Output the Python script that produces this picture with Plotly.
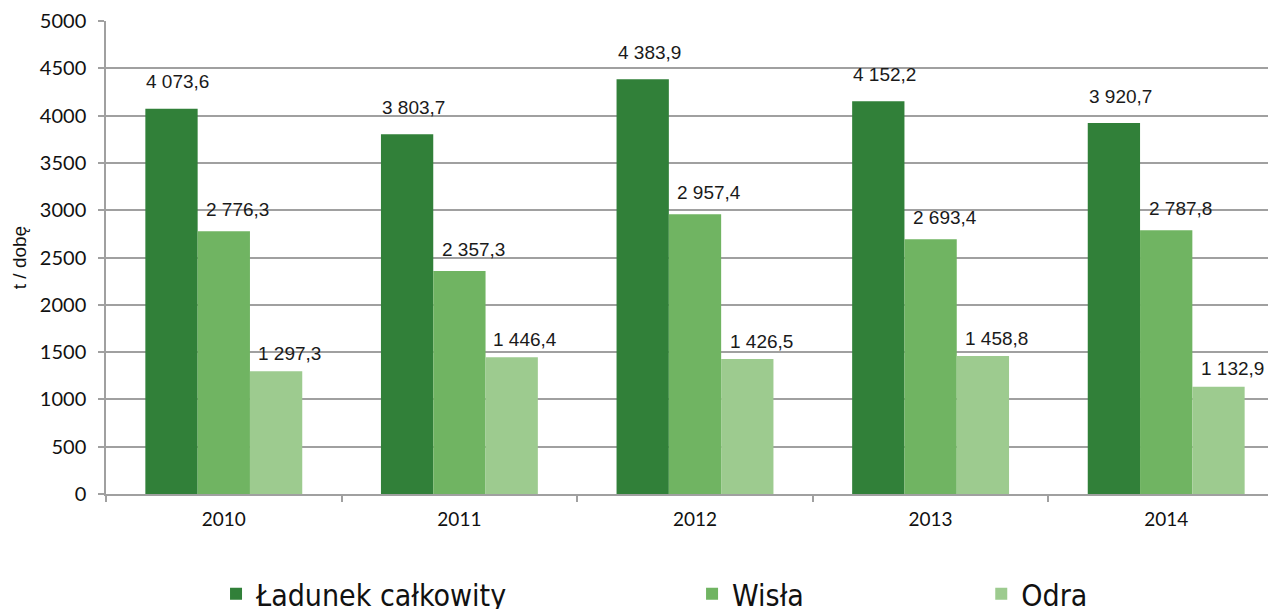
import plotly.graph_objects as go

years = ["2010", "2011", "2012", "2013", "2014"]
ladunek = [4073.6, 3803.7, 4383.9, 4152.2, 3920.7]
wisla = [2776.3, 2357.3, 2957.4, 2693.4, 2787.8]
odra = [1297.3, 1446.4, 1426.5, 1458.8, 1132.9]

series = [
    ("Ładunek całkowity", ladunek, "#318039", "legend", -46, 27),
    ("Wisła", wisla, "#70b462", "legend2", 14, 22),
    ("Odra", odra, "#9dcb8f", "legend3", 66, 18),
]

def fmt(v):
    s = f"{v:,.1f}"
    return s.replace(",", " ").replace(".", ",")

fig = go.Figure()
annotations = []
for name, vals, color, leg, xs, ys in series:
    fig.add_trace(go.Bar(
        x=years, y=vals, name=name, marker=dict(color=color, line=dict(width=0)),
        legend=leg,
    ))
    for i, v in enumerate(vals):
        annotations.append(dict(
            x=i, y=v, text=fmt(v), showarrow=False, xref="x", yref="y",
            xshift=xs, yshift=ys, yanchor="middle", xanchor="center",
            font=dict(family="Liberation Sans, Arial, sans-serif", size=19, color="#1a1a1a"),
        ))

legfont = dict(family="Liberation Sans Narrow, DejaVu Sans Condensed, sans-serif", size=30, color="#111111")
leg_common = dict(orientation="h", yanchor="middle", xanchor="left", y=-0.211,
                  font=legfont, bgcolor="rgba(0,0,0,0)", itemclick=False)

fig.update_layout(
    width=1276, height=609,
    margin=dict(l=98, r=0, t=13, b=123, autoexpand=False),
    paper_bgcolor="white", plot_bgcolor="white",
    barmode="group", bargap=0.334, bargroupgap=0,
    annotations=annotations,
    showlegend=True,
    legend=dict(x=0.0934, **leg_common),
    legend2=dict(x=0.4975, **leg_common),
    legend3=dict(x=0.743, **leg_common),
    xaxis=dict(
        type="category", range=[-0.5, 4.5], tickson="boundaries", ticks="outside", ticklen=6,
        tickcolor="#a0a0a0", tickwidth=1.5,
        showline=True, linecolor="#a0a0a0", linewidth=1.5, showgrid=False,
        tickfont=dict(family="Lato, sans-serif", size=19, color="#111111"),
        tickangle=0, automargin=False, ticklabelstandoff=7,
    ),
    yaxis=dict(
        range=[0, 5000], dtick=500, tick0=0,
        showgrid=True, gridcolor="#a0a0a0", gridwidth=1.5,
        ticks="outside", ticklen=6, tickcolor="#a0a0a0", tickwidth=1.5,
        showline=True, linecolor="#a0a0a0", linewidth=1.5,
        zeroline=False, automargin=False,
        tickfont=dict(family="Lato, sans-serif", size=20, color="#111111"),
        ticklabelstandoff=8,
        title=dict(text="t / dobę", standoff=8,
                   font=dict(family="Liberation Sans, Arial, sans-serif", size=19, color="#111111")),
    ),
)

fig.write_html("out.html")
